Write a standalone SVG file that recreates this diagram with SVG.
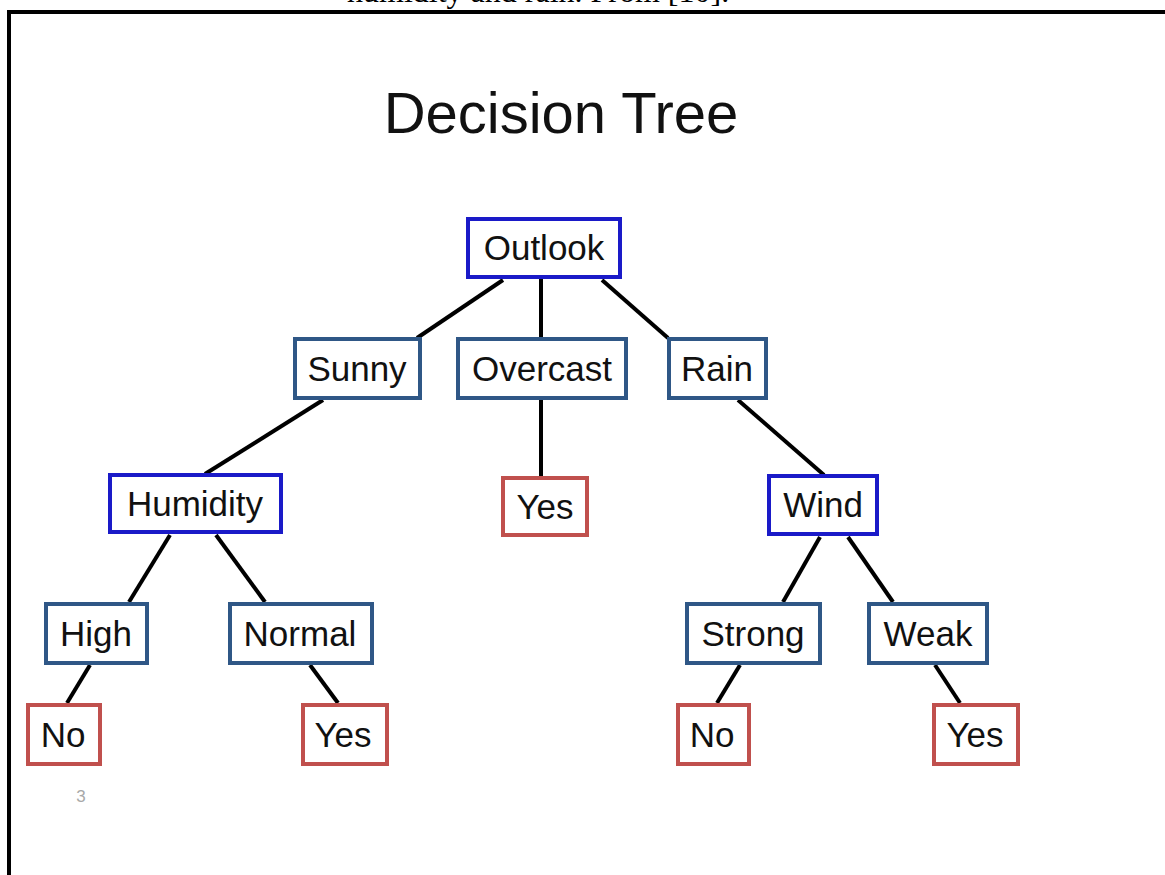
<svg xmlns="http://www.w3.org/2000/svg" width="1165" height="875" viewBox="0 0 1165 875">
  <style>
    .lbl { font-family: "Liberation Sans", Arial, sans-serif; font-size: 35px; fill: #111; text-anchor: middle; }
    .attr { fill: #ffffff; stroke: #1a1ac8; stroke-width: 4; }
    .val { fill: #ffffff; stroke: #2f5786; stroke-width: 4; }
    .leaf { fill: #ffffff; stroke: #c0504d; stroke-width: 4; }
    .edge { stroke: #000; stroke-width: 4; fill: none; }
  </style>
  <rect x="0" y="0" width="1165" height="875" fill="#ffffff"/>
  <text x="347" y="2" font-family="'Liberation Serif', 'Times New Roman', serif" font-size="32" fill="#000">humidity and rain. From [10].</text>
  <rect x="9" y="12" width="1200" height="900" fill="#ffffff" stroke="#000" stroke-width="4"/>
  <text x="561" y="133" font-family="'Liberation Sans', Arial, sans-serif" font-size="58" fill="#111" text-anchor="middle">Decision Tree</text>
  <text x="81" y="802" font-family="'Liberation Sans', Arial, sans-serif" font-size="17" fill="#a8a8a8" text-anchor="middle">3</text>

  <g id="connectors">
    <line class="edge" x1="503" y1="280" x2="417" y2="338"/>
    <line class="edge" x1="541" y1="279" x2="541" y2="337"/>
    <line class="edge" x1="602" y1="280" x2="668" y2="338"/>
    <line class="edge" x1="323" y1="400" x2="205" y2="474"/>
    <line class="edge" x1="541" y1="400" x2="541" y2="477"/>
    <line class="edge" x1="738" y1="400" x2="824" y2="475"/>
    <line class="edge" x1="170" y1="535" x2="129" y2="602"/>
    <line class="edge" x1="216" y1="535" x2="265" y2="602"/>
    <line class="edge" x1="90" y1="665" x2="67" y2="703"/>
    <line class="edge" x1="310" y1="665" x2="338" y2="703"/>
    <line class="edge" x1="820" y1="537" x2="783" y2="602"/>
    <line class="edge" x1="848" y1="537" x2="893" y2="602"/>
    <line class="edge" x1="740" y1="665" x2="717" y2="703"/>
    <line class="edge" x1="935" y1="665" x2="960" y2="703"/>
  </g>

  <g id="outlook"><rect class="attr" x="468" y="219" width="152" height="58"/><text class="lbl" x="544" y="260">Outlook</text></g>
  <g id="sunny"><rect class="val" x="295" y="339" width="125" height="59"/><text class="lbl" x="357" y="381">Sunny</text></g>
  <g id="overcast"><rect class="val" x="458" y="339" width="168" height="59"/><text class="lbl" x="542" y="381">Overcast</text></g>
  <g id="rain"><rect class="val" x="669" y="339" width="97" height="59"/><text class="lbl" x="717" y="381">Rain</text></g>
  <g id="humidity"><rect class="attr" x="110" y="475" width="171" height="57"/><text class="lbl" x="195" y="516">Humidity</text></g>
  <g id="yes-overcast"><rect class="leaf" x="503" y="478" width="84" height="57"/><text class="lbl" x="545" y="519">Yes</text></g>
  <g id="wind"><rect class="attr" x="769" y="476" width="108" height="58"/><text class="lbl" x="823" y="517">Wind</text></g>
  <g id="high"><rect class="val" x="46" y="604" width="101" height="59"/><text class="lbl" x="96" y="646">High</text></g>
  <g id="normal"><rect class="val" x="230" y="604" width="142" height="59"/><text class="lbl" x="300" y="646">Normal</text></g>
  <g id="strong"><rect class="val" x="687" y="604" width="133" height="59"/><text class="lbl" x="753" y="646">Strong</text></g>
  <g id="weak"><rect class="val" x="869" y="604" width="118" height="59"/><text class="lbl" x="928" y="646">Weak</text></g>
  <g id="no-high"><rect class="leaf" x="28" y="705" width="72" height="59"/><text class="lbl" x="63" y="747">No</text></g>
  <g id="yes-normal"><rect class="leaf" x="303" y="705" width="84" height="59"/><text class="lbl" x="343" y="747">Yes</text></g>
  <g id="no-strong"><rect class="leaf" x="678" y="705" width="71" height="59"/><text class="lbl" x="712" y="747">No</text></g>
  <g id="yes-weak"><rect class="leaf" x="934" y="705" width="84" height="59"/><text class="lbl" x="975" y="747">Yes</text></g>
</svg>
